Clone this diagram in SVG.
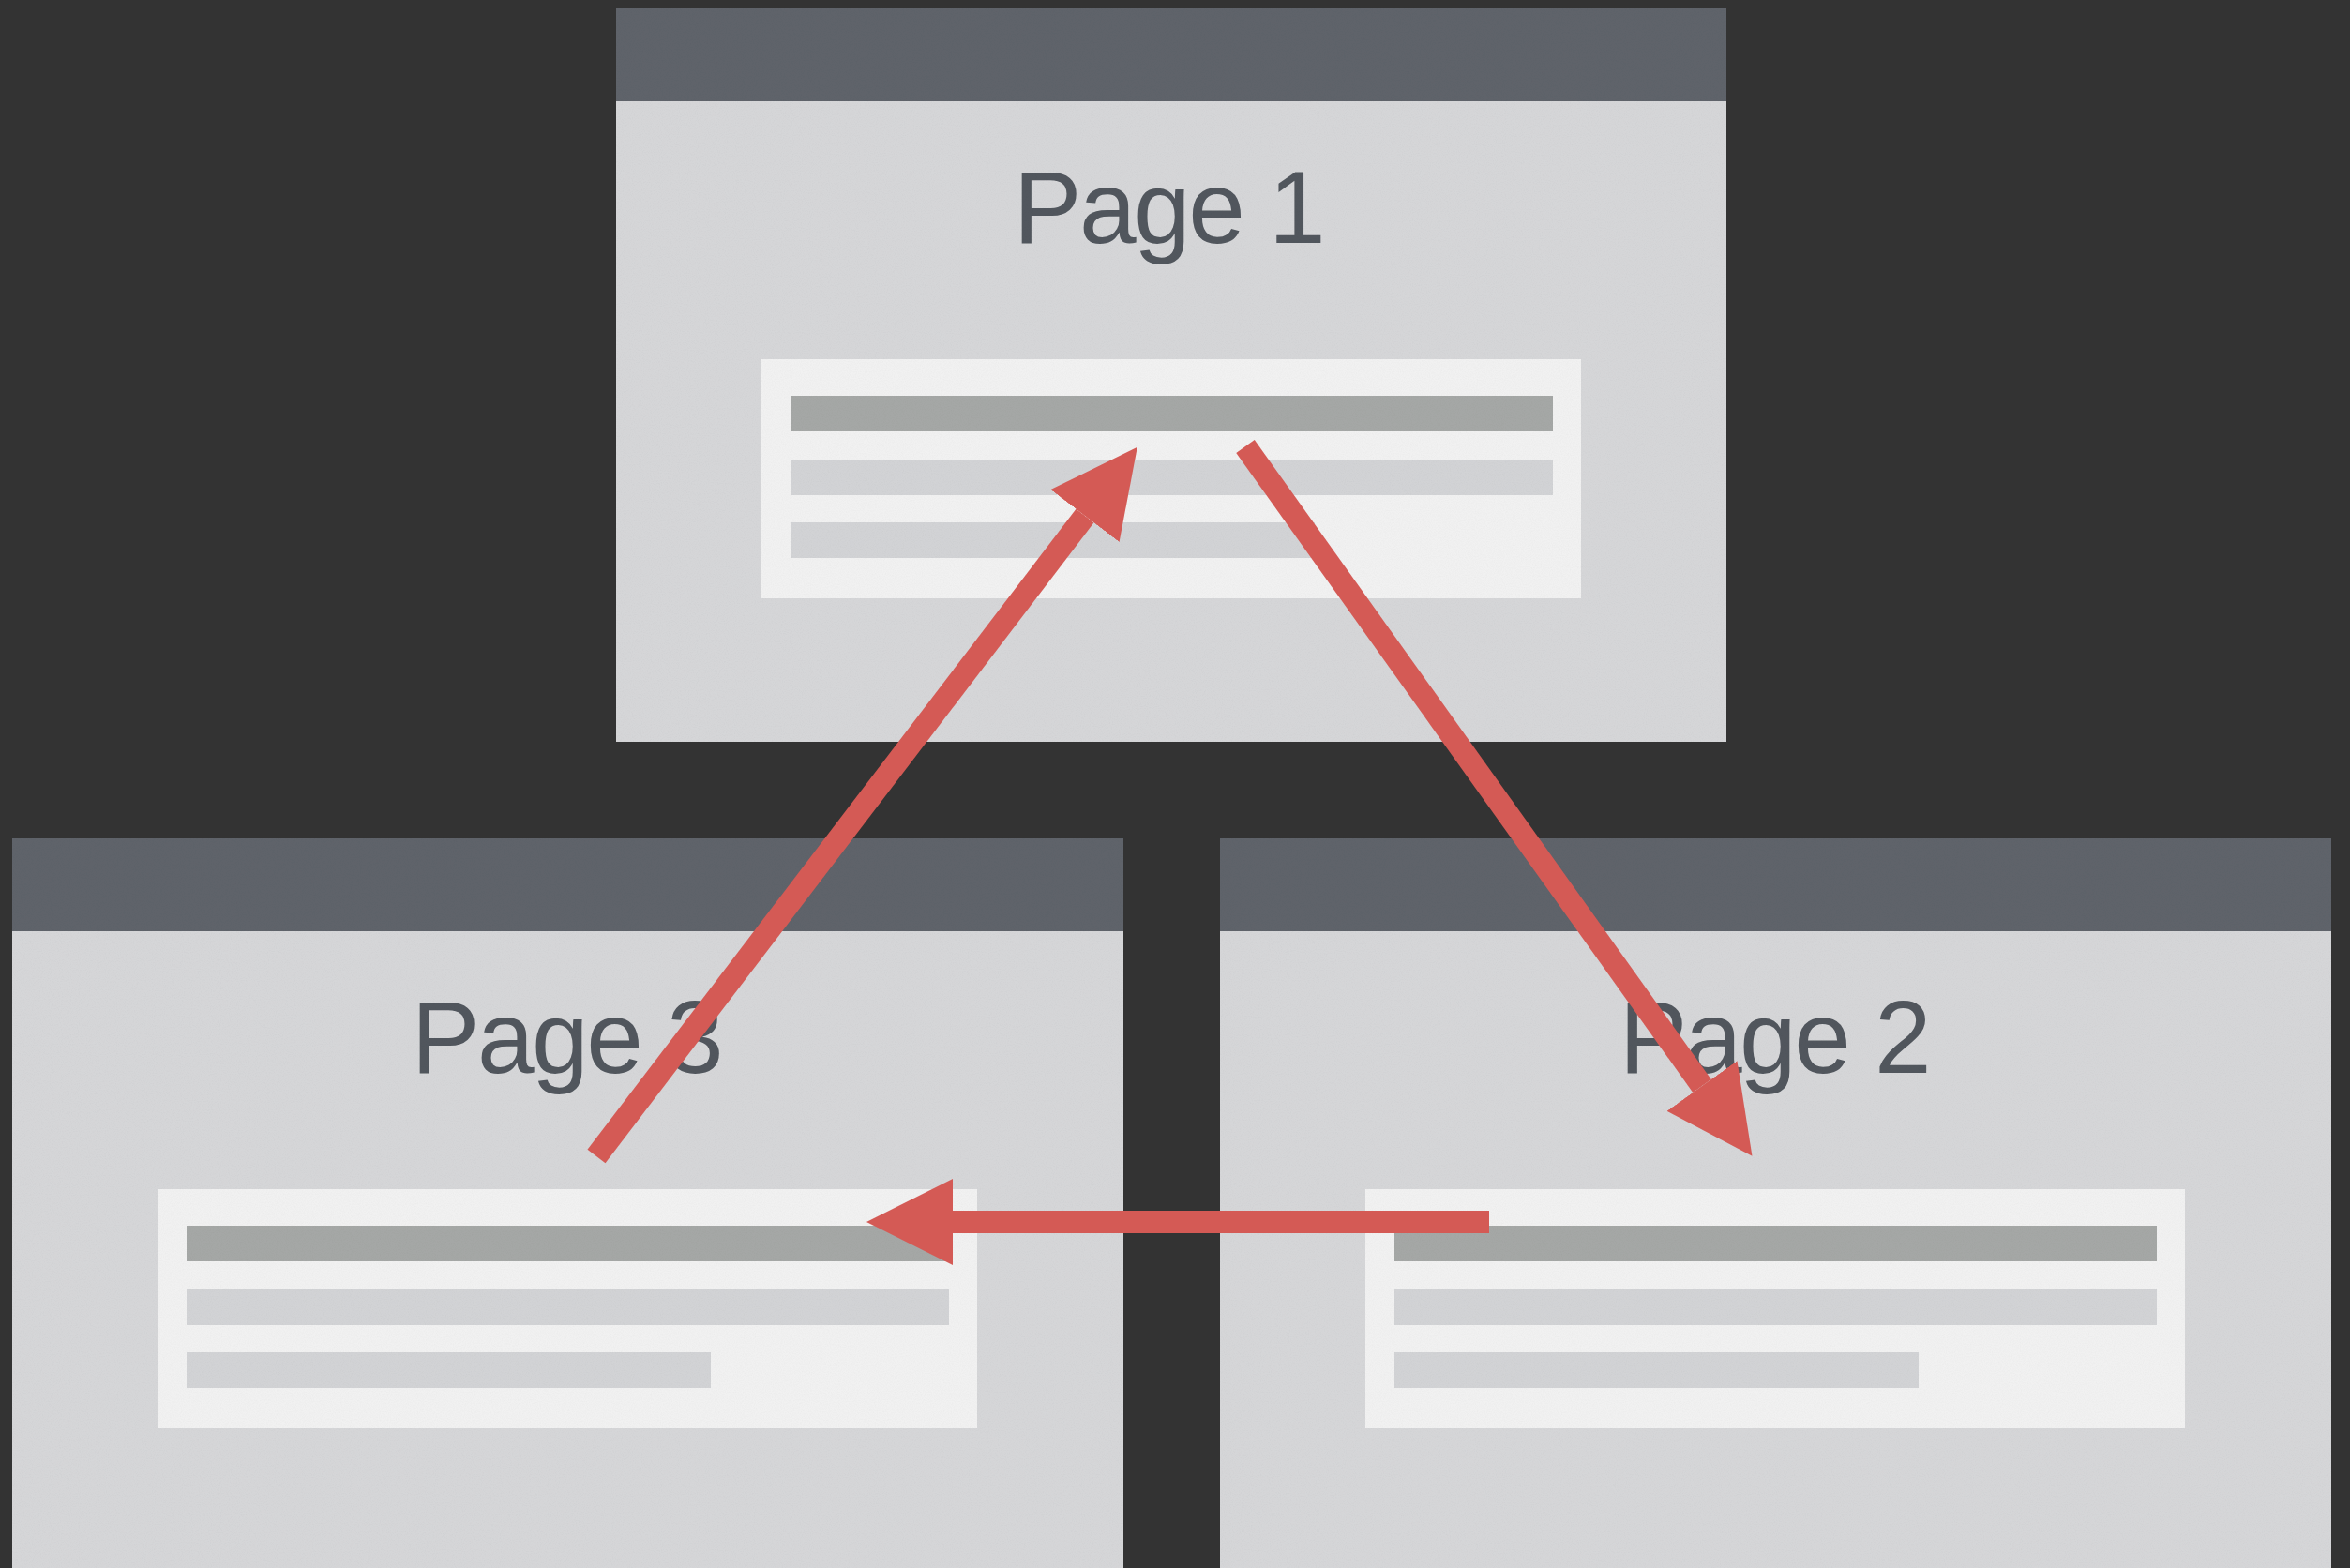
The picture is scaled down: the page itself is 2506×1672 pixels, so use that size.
<svg xmlns="http://www.w3.org/2000/svg" width="2506" height="1672" viewBox="0 0 2506 1672">
  <style>
    .win { fill: #d5d6d8; }
    .hdr { fill: #5f636a; }
    .panel { fill: #f1f1f1; }
    .bar1 { fill: #a5a7a6; }
    .bar2 { fill: #d2d3d5; }
    .title { font-family: "Liberation Sans", Arial, sans-serif; font-size: 109px; letter-spacing: -2.5px; fill: #51565d; text-anchor: middle; }
    .arrow { stroke: #d45a55; stroke-width: 24; fill: none; }
  </style>
  <defs>
    <filter id="grain" x="0" y="0" width="100%" height="100%">
      <feTurbulence type="fractalNoise" baseFrequency="0.9" numOctaves="2" seed="3" result="noise"/>
      <feColorMatrix in="noise" type="matrix" values="0 0 0 0 0  0 0 0 0 0  0 0 0 0 0  0 0 0 -0.9 0.55" result="dark"/>
      <feComposite in="dark" in2="SourceAlpha" operator="in" result="grainMask"/>
      <feComponentTransfer in="grainMask" result="g2"><feFuncA type="linear" slope="0.12"/></feComponentTransfer>
      <feMerge><feMergeNode in="SourceGraphic"/><feMergeNode in="g2"/></feMerge>
    </filter>
    <marker id="head" markerUnits="userSpaceOnUse" markerWidth="92" markerHeight="92" viewBox="0 0 92 92" refX="0" refY="46" orient="auto">
      <path d="M0,0 L92,46 L0,92 Z" fill="#d45a55"/>
    </marker>
  </defs>
  <rect x="0" y="0" width="2506" height="1672" fill="#333333"/>

  <g id="page1" filter="url(#grain)">
    <rect class="win" x="657" y="9" width="1184" height="782"/>
    <rect class="hdr" x="657" y="9" width="1184" height="99"/>
    <rect class="panel" x="812" y="383" width="874" height="255"/>
    <rect class="bar1" x="843" y="422" width="813" height="38"/>
    <rect class="bar2" x="843" y="490" width="813" height="38"/>
    <rect class="bar2" x="843" y="557" width="559" height="38"/>
    <text class="title" x="1246" y="259">Page 1</text>
  </g>

  <g id="page3" filter="url(#grain)">
    <rect class="win" x="13" y="894" width="1185" height="778"/>
    <rect class="hdr" x="13" y="894" width="1185" height="99"/>
    <rect class="panel" x="168" y="1268" width="874" height="255"/>
    <rect class="bar1" x="199" y="1307" width="813" height="38"/>
    <rect class="bar2" x="199" y="1375" width="813" height="38"/>
    <rect class="bar2" x="199" y="1442" width="559" height="38"/>
    <text class="title" x="604" y="1144">Page 3</text>
  </g>

  <g id="page2" filter="url(#grain)">
    <rect class="win" x="1301" y="894" width="1185" height="778"/>
    <rect class="hdr" x="1301" y="894" width="1185" height="99"/>
    <rect class="panel" x="1456" y="1268" width="874" height="255"/>
    <rect class="bar1" x="1487" y="1307" width="813" height="38"/>
    <rect class="bar2" x="1487" y="1375" width="813" height="38"/>
    <rect class="bar2" x="1487" y="1442" width="559" height="38"/>
    <text class="title" x="1892" y="1144">Page 2</text>
  </g>

  <g id="connectors">
    <line class="arrow" x1="1328" y1="476" x2="1815" y2="1158" marker-end="url(#head)"/>
    <line class="arrow" x1="636" y1="1233" x2="1157" y2="550" marker-end="url(#head)"/>
    <line class="arrow" x1="1588" y1="1303" x2="1016" y2="1303" marker-end="url(#head)"/>
  </g>
</svg>
